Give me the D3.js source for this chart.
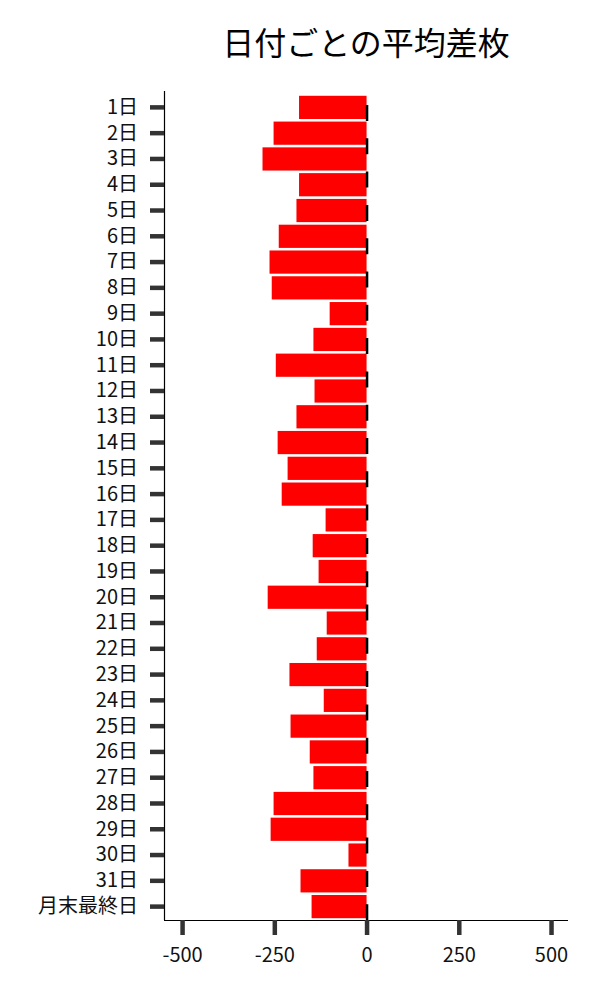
<!DOCTYPE html>
<html>
<head>
<meta charset="utf-8">
<script src="https://cdn.jsdelivr.net/npm/d3@7"></script>
<style>
  html, body { margin: 0; padding: 0; background: #fff; }
  svg { display: block; }
  text { font-family: "Noto Sans CJK JP", "Noto Sans", sans-serif; }
</style>
</head>
<body>
<svg id="chart" width="600" height="1000"></svg>
<script>
const title = "日付ごとの平均差枚";
const categories = ["1日","2日","3日","4日","5日","6日","7日","8日","9日","10日",
  "11日","12日","13日","14日","15日","16日","17日","18日","19日","20日",
  "21日","22日","23日","24日","25日","26日","27日","28日","29日","30日","31日","月末最終日"];
const values = [-183,-252,-282,-183,-190,-238,-263,-257,-100,-144,
  -246,-141,-190,-241,-214,-230,-111,-146,-130,-268,
  -108,-135,-209,-116,-206,-154,-144,-252,-260,-49,-179,-149];
const xTicks = [-500,-250,0,250,500];
const xDomain = [-549, 546];

(function () {
const svg = d3.select("#chart");
const mLeft = 164, mRight = 568, mTop = 91, mBottom = 920;

const x = d3.scaleLinear().domain(xDomain).range([mLeft, mRight]);
const y = d3.scaleBand().domain(categories).range([94.5, 919.5])
  .paddingInner(0.1).paddingOuter(0.05);

// title
svg.append("text")
  .attr("x", (mLeft + mRight) / 2)
  .attr("y", 55)
  .attr("text-anchor", "middle")
  .attr("font-size", 32)
  .attr("fill", "#000")
  .text(title);

// bars
svg.append("g").selectAll("rect")
  .data(values)
  .join("rect")
  .attr("x", d => x(Math.min(0, d)))
  .attr("width", d => Math.abs(x(d) - x(0)))
  .attr("y", (d, i) => y(categories[i]))
  .attr("height", y.bandwidth())
  .attr("fill", "#ff0000");

// dashed zero line
svg.append("line")
  .attr("x1", x(0) + 0.5).attr("x2", x(0) + 0.5)
  .attr("y1", mTop).attr("y2", mBottom)
  .attr("stroke", "#000")
  .attr("stroke-width", 2.5)
  .attr("stroke-dasharray", "16 17.3")
  .attr("stroke-dashoffset", 19.3);

// y axis
const gy = svg.append("g")
  .attr("transform", `translate(${mLeft},0)`)
  .call(d3.axisLeft(y).tickSize(14).tickSizeOuter(0).tickPadding(12));
gy.select(".domain").attr("stroke", "#000").attr("stroke-width", 1.2)
  .attr("d", `M0.5,${mTop}V${mBottom}`);
gy.selectAll(".tick line").attr("stroke", "#333").attr("stroke-width", 4.5);
gy.selectAll(".tick text").attr("font-size", 20).attr("fill", "#111")
  .style("font-family", '"Noto Sans CJK JP", sans-serif');

// x axis
const gx = svg.append("g")
  .attr("transform", `translate(0,${mBottom})`)
  .call(d3.axisBottom(x).tickValues(xTicks).tickFormat(d => String(d))
    .tickSize(15).tickSizeOuter(0).tickPadding(13));
gx.select(".domain").attr("stroke", "#000").attr("stroke-width", 1.2)
  .attr("d", `M${mLeft},0.5H${mRight}`);
gx.selectAll(".tick line").attr("stroke", "#333").attr("stroke-width", 4.5);
gx.selectAll(".tick text").attr("font-size", 20).attr("fill", "#111")
  .style("font-family", '"Noto Sans CJK JP", sans-serif');
})();
</script>
</body>
</html>
